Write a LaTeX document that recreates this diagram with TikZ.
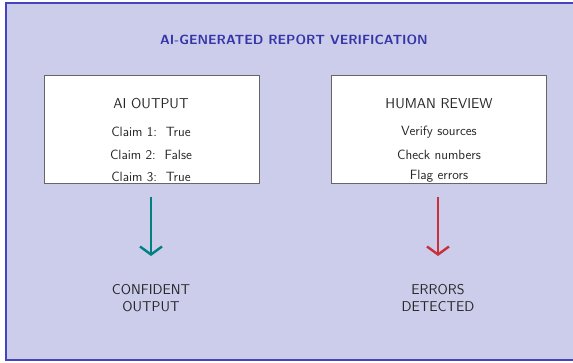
\documentclass[tikz,border=0pt]{standalone}
\usepackage{fontspec}
\usetikzlibrary{arrows.meta}
\renewcommand{\familydefault}{\sfdefault}
\definecolor{bgl}{HTML}{CCCCEB}
\definecolor{frm}{HTML}{4444C0}
\definecolor{ttl}{HTML}{3535A8}
\definecolor{tealA}{HTML}{008080}
\definecolor{redA}{HTML}{C8303A}
\begin{document}
\begin{tikzpicture}[x=1pt,y=-1pt,
  panel/.style={draw=gray!80!black,line width=0.8pt,fill=white},
  boxtxt/.style={font=\fontsize{13.4}{15}\selectfont,text=black!85,inner sep=0pt},
  headtxt/.style={font=\fontsize{14.3}{16}\selectfont,text=black!85,inner sep=0pt},
  lbl/.style={font=\fontsize{14.2}{17}\selectfont,text=black!85,align=center,inner sep=0pt},
  flow/.style={line width=2.6pt,-{Straight Barb[length=8pt,width=22pt,line width=2.4pt]}}]
\useasboundingbox (0,0) rectangle (573,363);
\fill[bgl] (6,3) rectangle (580,360);
\draw[frm,line width=1.6pt] (580,3) -- (6,3) -- (6,360) -- (580,360);
\node[font=\bfseries\fontsize{13.3}{15}\selectfont,text=ttl] (title) at (294,40) {AI-GENERATED REPORT VERIFICATION};
\node[panel,minimum width=215pt,minimum height=108pt,anchor=north west] (ai) at (44,75) {};
\node[panel,minimum width=215pt,minimum height=108pt,anchor=north west] (hr) at (331,75) {};
\node[headtxt] (aih) at (151,104) {AI OUTPUT};
\node[boxtxt] (c1) at (151,132) {Claim 1:\ \ True};
\node[boxtxt] (c2) at (151,155) {Claim 2:\ \ False};
\node[boxtxt] (c3) at (151,177) {Claim 3:\ \ True};
\node[headtxt] (hrh) at (439,104) {HUMAN REVIEW};
\node[boxtxt] (v1) at (439,132) {Verify sources};
\node[boxtxt] (v2) at (439,155) {Check numbers};
\node[boxtxt] (v3) at (439,176) {Flag errors};
\coordinate (as) at (151,197);
\coordinate (rs) at (438,197);
\node[lbl] (co) at (151,298) {CONFIDENT\\OUTPUT};
\node[lbl] (ed) at (438,298) {ERRORS\\DETECTED};
\coordinate (ae) at (151,256);
\coordinate (re) at (438,256);
\draw[flow,tealA] (as) -- (ae);
\draw[flow,redA] (rs) -- (re);
\end{tikzpicture}
\end{document}
